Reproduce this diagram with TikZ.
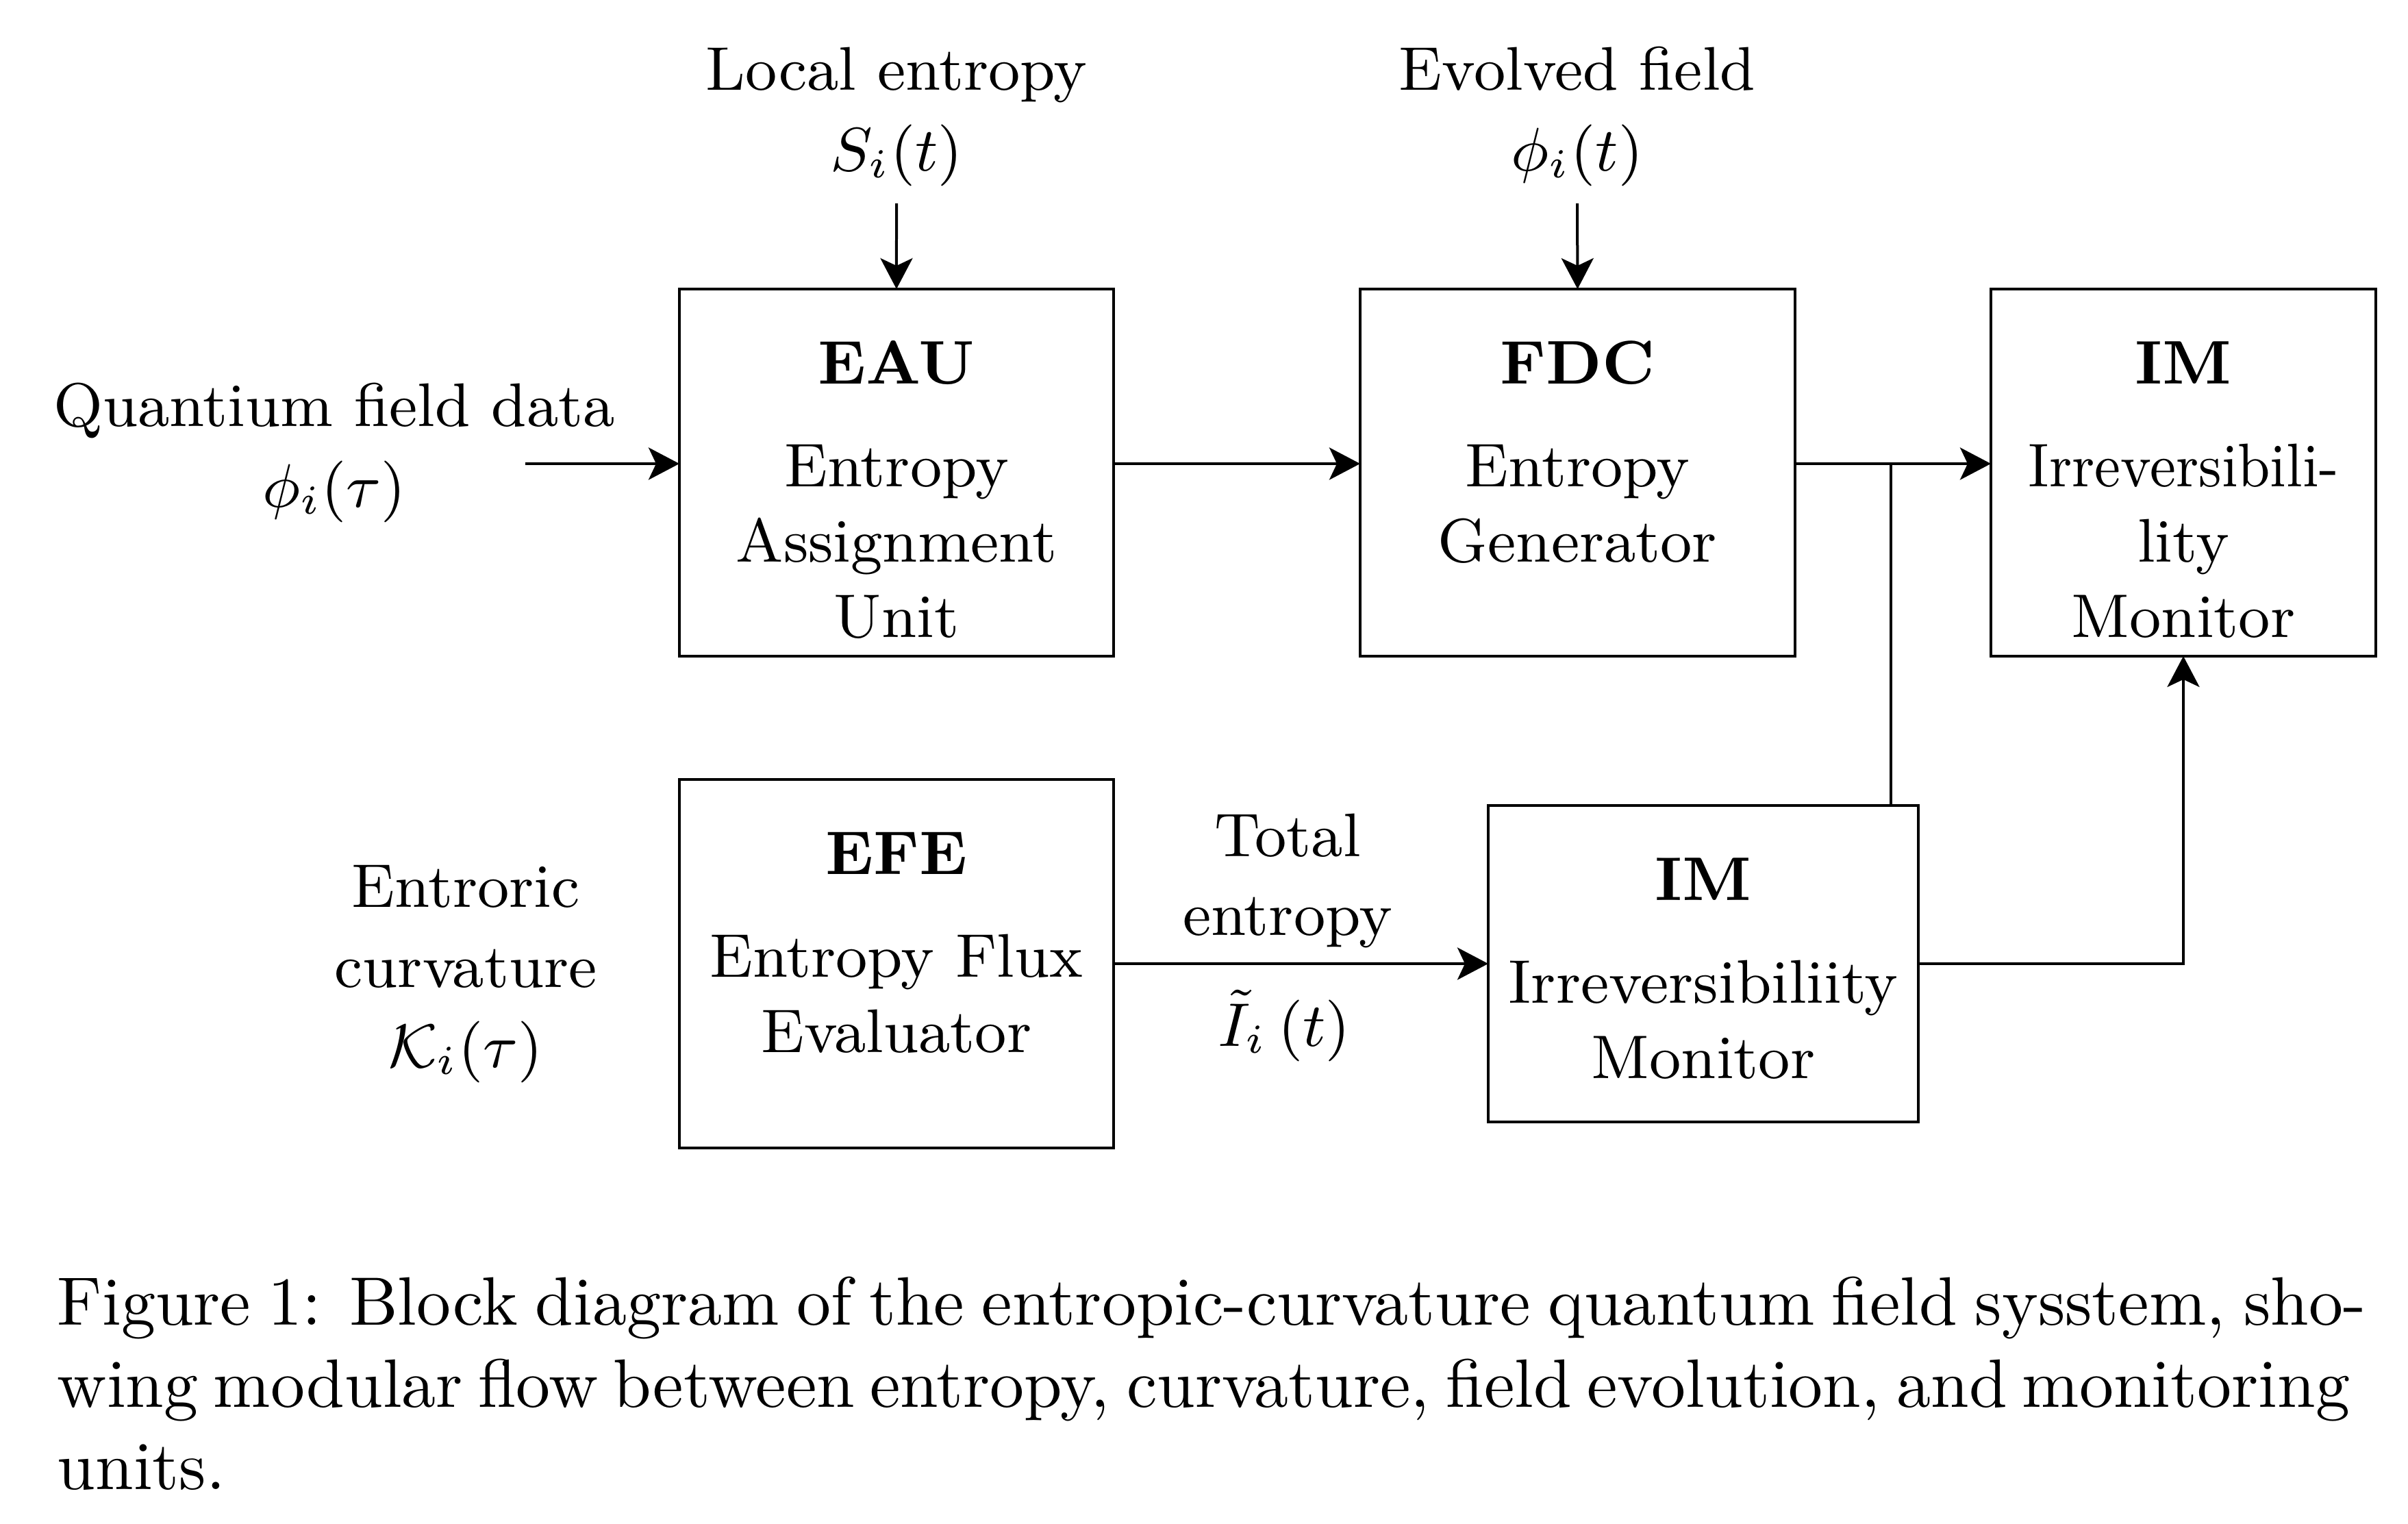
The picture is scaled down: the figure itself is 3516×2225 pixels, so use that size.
\documentclass[tikz,border=0pt]{standalone}
\usetikzlibrary{arrows.meta}
\newcommand\blocktext[4]{\parbox[c][#2][t]{#1}{\centering\rule{0pt}{13.9pt}\textbf{#3}\\[4pt]#4}}
\begin{document}
\begin{tikzpicture}[x=0.1pt,y=-0.1pt,
  blk/.style={draw, line width=0.4pt, inner sep=0pt, outer sep=0pt, anchor=north west, font=\small},
  lbl/.style={align=center, font=\small, inner sep=0pt},
  arr/.style={line width=0.4pt, -{Stealth[length=4.5pt,width=4.7pt,inset=1.1pt]}},
  ln/.style={line width=0.4pt},
  captxt/.style={anchor=base west, inner sep=0pt, font=\normalsize}]
\useasboundingbox (0,0) rectangle (3516,2225);

% blocks
\node[blk] (eau) at (992,422) {\blocktext{63.4pt}{53.6pt}{EAU}{Entropy\\Assignment\\Unit}};
\node[blk] (fdc) at (1986,422) {\blocktext{63.5pt}{53.6pt}{FDC}{Entropy\\Generator}};
\node[blk] (imt) at (2907,422) {\blocktext{56.2pt}{53.6pt}{IM}{\scalebox{0.92}[1]{Irreversibili-}\\lity\\Monitor}};
\node[blk] (efe) at (992,1138) {\blocktext{63.4pt}{53.8pt}{EFE}{Entropy Flux\\Evaluator}};
\node[blk] (iml) at (2173,1176) {\blocktext{62.8pt}{46.2pt}{IM}{Irreversibiliity\\Monitor}};

% labels
\node[lbl, anchor=south, inner sep=2.25pt] (lent) at (1309,297) {Local entropy\\[0.8pt]$S_i(t)$};
\node[lbl, anchor=south, inner sep=2.25pt] (evo) at (2303,297) {Evolved field\\[0.8pt]$\phi_i(t)$};
\node[lbl] (qfd) at (488,661) {Quantium field data\\[0.8pt]$\phi_i(\tau)$};
\node[lbl] (ecv) at (680,1422) {Entroric\\[0.7pt]curvature\\[0.7pt]$\mathcal{K}_i(\tau)$};
\node[lbl, anchor=south, inner sep=2pt] (tot) at (1880,1406) {Total\\[0.5pt]entropy};
\node[lbl, anchor=base] (itl) at (1875,1528) {$\tilde{I}_i\,(t)$};

% connectors
\coordinate (qin) at (767,677);
\coordinate (jn) at (2761,677);
\draw[arr] (qin) -- (qin -| eau.west);
\draw[arr] (eau.east |- qin) -- (fdc.west |- qin);
\draw[arr] (fdc.east |- qin) -- (imt.west |- qin);
\draw[ln] (jn) -- (jn |- iml.north);
\draw[arr] (lent.south) -- (eau.north);
\draw[arr] (evo.south) -- (fdc.north);
\draw[arr] (efe.east) -- (iml.west);
\draw[arr] (iml.east) -| (imt.south);

% caption
\node[captxt] (cap1) at (82,1935) {\makebox[337.1pt][s]{Figure 1: Block diagram of the entropic-curvature quantum field sysstem, sho-}};
\node[captxt] (cap2) at (82,2055) {\makebox[333.5pt][s]{wing modular flow between entropy, curvature, field evolution, and monitoring}};
\node[captxt] (cap3) at (82,2175) {units.};
\end{tikzpicture}
\end{document}
